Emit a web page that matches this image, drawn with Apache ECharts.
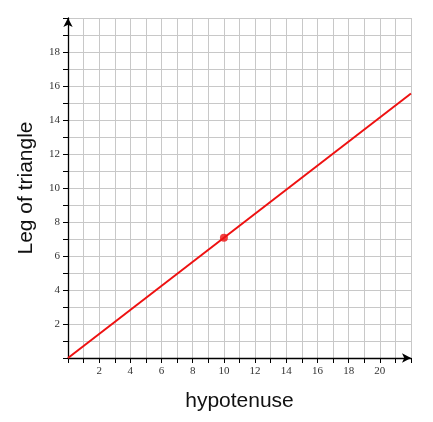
<!DOCTYPE html>
<html>
<head>
<meta charset="utf-8">
<script src="https://cdn.jsdelivr.net/npm/echarts@6/dist/echarts.min.js"></script>
<style>html,body{margin:0;padding:0;background:#fff}#main{width:433px;height:422px}</style>
</head>
<body>
<div id="main"></div>
<script>
// line of leg = hypotenuse / sqrt(2)
var lineX = [0, 22];
var lineY = [0, 15.56];
var pointX = [10];
var pointY = [7.07];

var chart = echarts.init(document.getElementById('main'));
function lbl(v, max) { return (v % 2 === 0 && v !== 0 && v < max) ? String(v) : ''; }
chart.setOption({
    animation: false,
    grid: { left: 68, right: 22, top: 18, bottom: 64 },
    xAxis: {
        type: 'value', min: 0, max: 22, interval: 1,
        name: 'hypotenuse', nameLocation: 'middle', nameGap: 33,
        nameTextStyle: { fontFamily: 'Liberation Sans', fontSize: 21, color: '#111' },
        axisLine: { symbol: ['none', 'arrow'], symbolSize: [7, 9], lineStyle: { color: '#000', width: 1.3 } },
        axisTick: { length: 5, lineStyle: { color: '#000' } },
        axisLabel: { fontFamily: 'Liberation Serif', fontSize: 11, color: '#333', margin: 8, formatter: function (v) { return lbl(v, 22); } },
        splitLine: { lineStyle: { color: '#c8c8c8' } }
    },
    yAxis: {
        type: 'value', min: 0, max: 20, interval: 1,
        name: 'Leg of triangle', nameLocation: 'middle', nameGap: 31,
        nameTextStyle: { fontFamily: 'Liberation Sans', fontSize: 21, color: '#111' },
        axisLine: { symbol: ['none', 'arrow'], symbolSize: [7, 9], lineStyle: { color: '#000', width: 1.3 } },
        axisTick: { length: 5, lineStyle: { color: '#000' } },
        axisLabel: { fontFamily: 'Liberation Serif', fontSize: 11, color: '#333', margin: 8, formatter: function (v) { return lbl(v, 20); } },
        splitLine: { lineStyle: { color: '#c8c8c8' } }
    },
    series: [
        {
            type: 'line', data: lineX.map(function (x, i) { return [x, lineY[i]]; }),
            showSymbol: false, lineStyle: { color: '#ee1111', width: 2 }
        },
        {
            type: 'scatter', data: pointX.map(function (x, i) { return [x, pointY[i]]; }),
            symbolSize: 8, itemStyle: { color: '#ee1111' }
        }
    ]
});
</script>
</body>
</html>
